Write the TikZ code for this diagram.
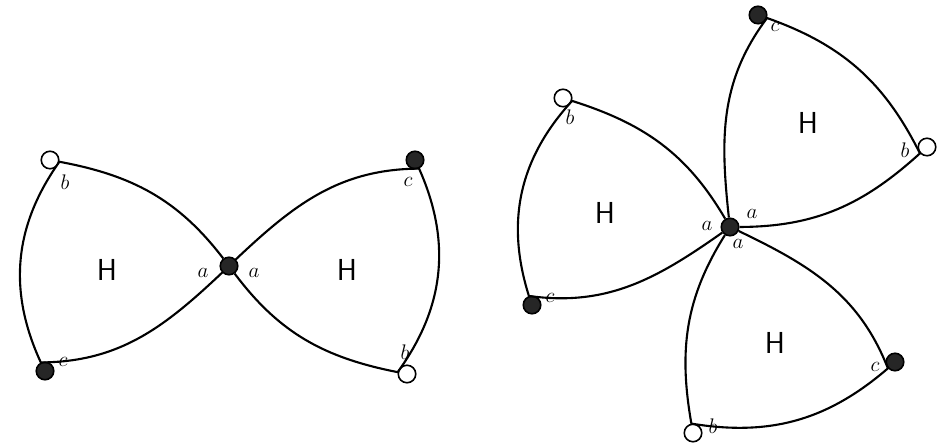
\documentclass[tikz,border=0pt]{standalone}
\usetikzlibrary{positioning}
\begin{document}
\begin{tikzpicture}[
  x=0.02cm, y=0.02cm,
  vtx/.style={circle, draw, line width=0.9pt, minimum size=3.5mm, inner sep=0pt},
  vblack/.style={vtx, fill=black!85},
  vwhite/.style={vtx, fill=white},
  lbl/.style={inner sep=0pt, font=\large},
  hlbl/.style={inner sep=0pt, font=\LARGE\sffamily},
  rim/.style={line width=1.2pt},
  sab/.style={relative, out=-22, in=200},
  sbc/.style={relative, out=-#1, in=180+#1},
  sbc/.default=30,
  sca/.style={relative, out=-26, in=197}
]
\useasboundingbox (0,0) rectangle (939,443);
% two copies glued at a
\node[vblack] (la)  at (229,177) {};
\node[vwhite] (lb1) at (50,283) {};
\node[vblack] (lc1) at (45,72) {};
\node[vwhite] (lb2) at (407,69) {};
\node[vblack] (lc2) at (415,283) {};
\node[hlbl] (lh1) at (107,173) {H};
\node[hlbl] (lh2) at (347,173) {H};
\node[lbl] (lta1) at (203,170) {$a$};
\node[lbl] (lta2) at (254,170) {$a$};
\node[lbl] (ltb1) at (65,261) {$b$};
\node[lbl] (ltc1) at (63,81) {$c$};
\node[lbl] (ltb2) at (405,91) {$b$};
\node[lbl] (ltc2) at (408,261) {$c$};
\draw[rim] (la) to[sab] (lb1) to[sbc] (lc1) to[sca] (la);
\draw[rim] (la) to[sab] (lb2) to[sbc] (lc2) to[sca] (la);
% three copies glued at a
\node[vblack] (ra)  at (730,216) {};
\node[vwhite] (rb1) at (927,296) {};
\node[vblack] (rc1) at (758,428) {};
\node[vwhite] (rb2) at (563,345) {};
\node[vblack] (rc2) at (532,138) {};
\node[vwhite] (rb3) at (693,10) {};
\node[vblack] (rc3) at (895,81) {};
\node[hlbl] (rh1) at (808,320) {H};
\node[hlbl] (rh2) at (605,230) {H};
\node[hlbl] (rh3) at (775,100) {H};
\node[lbl] (rta1) at (752,229) {$a$};
\node[lbl] (rta2) at (707,217) {$a$};
\node[lbl] (rta3) at (738,199) {$a$};
\node[lbl] (rtb1) at (905,293) {$b$};
\node[lbl] (rtc1) at (775,416) {$c$};
\node[lbl] (rtb2) at (570,326) {$b$};
\node[lbl] (rtc2) at (550,145) {$c$};
\node[lbl] (rtb3) at (713,17) {$b$};
\node[lbl] (rtc3) at (875,76) {$c$};
\draw[rim] (ra) to[sab] (rb1) to[sbc=22] (rc1) to[sca] (ra);
\draw[rim] (ra) to[sab] (rb2) to[sbc=30] (rc2) to[sca] (ra);
\draw[rim] (ra) to[sab] (rb3) to[sbc=25] (rc3) to[sca] (ra);
\end{tikzpicture}
\end{document}
